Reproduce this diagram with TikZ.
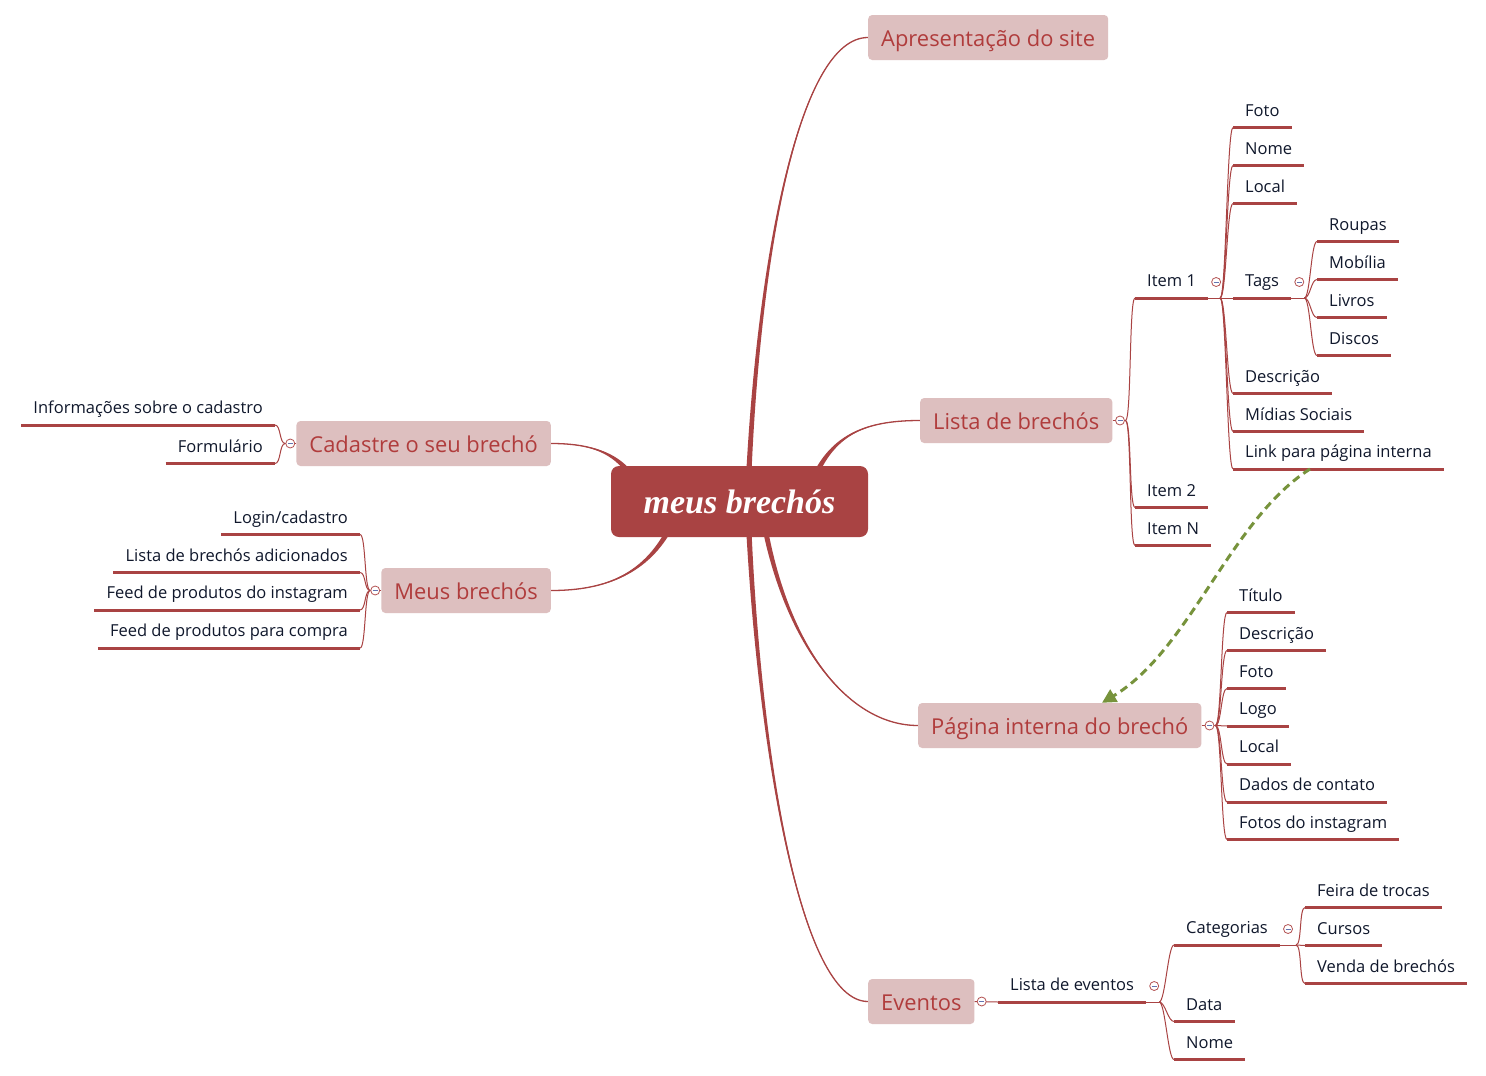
\documentclass[tikz,border=0pt]{standalone}
\usepackage{fontspec}
\setmainfont{Open Sans}
\newfontfamily\ctrfont{Liberation Serif}
\usetikzlibrary{calc,arrows.meta,backgrounds}
\definecolor{mred}{HTML}{A94343}
\definecolor{tfill}{HTML}{DDBFBF}
\definecolor{ttext}{HTML}{B03C3C}
\definecolor{ltext}{HTML}{10182C}
\definecolor{agreen}{HTML}{77933C}
\definecolor{cbord}{HTML}{B45454}
\definecolor{cminus}{HTML}{6474B0}
\tikzset{
 ctrbox/.style={fill=mred, rounded corners=8pt, minimum width=257pt, minimum height=71pt, text=white, font=\ctrfont\bfseries\itshape\fontsize{34}{40}\selectfont},
 topic/.style={fill=tfill, rounded corners=4pt, text=ttext, font=\fontsize{21.9}{26}\selectfont, inner xsep=13pt, inner ysep=0pt, minimum height=45pt, text height=18.4pt, text depth=0pt},
 leaf/.style={text=ltext, font=\fontsize{16.5}{20}\selectfont, inner xsep=12pt, inner ysep=7pt, text height=12pt, text depth=4pt},
 leafR/.style={leaf, anchor=south west},
 leafL/.style={leaf, anchor=south east},
 uline/.style={draw=mred, line width=3pt},
 conn/.style={draw=mred, line width=1pt},
 cbtn/.style={circle, draw=cbord, fill=white, line width=0.8pt, minimum size=9pt, inner sep=0pt},
 minusl/.style={draw=cminus, line width=0.8pt},
 garrow/.style={draw=agreen, line width=3pt, dash pattern=on 8pt off 5pt, -{Triangle[length=14pt,width=14pt]}}
}
\newcommand\brR[2]{\draw[conn] (#1) .. controls ($(#1)+(6,0)$) and ($(#2)+(-6,0)$) .. (#2);}
\newcommand\brL[2]{\draw[conn] (#1) .. controls ($(#1)+(-6,0)$) and ($(#2)+(6,0)$) .. (#2);}
\newcommand\mbr[5]{%
 \fill[mred] ($(#1)+(#5)$) .. controls ($(#2)+0.5*(#5)$) and (#3) .. (#4) .. controls (#3) and ($(#2)-0.5*(#5)$) .. ($(#1)-(#5)$) -- cycle;
 \draw[mred, line width=1.3pt] (#1) .. controls (#2) and (#3) .. (#4);}
\begin{document}
\begin{tikzpicture}[x=1pt,y=-1pt]
\useasboundingbox (0,0) rectangle (1486,1076);
% center and topics
\node[ctrbox] (ctr) at (739.5,501.5) {meus brechós};
\node[topic, anchor=west] (ap) at (868,37.5) {Apresentação do site};
\node[topic, anchor=west] (li) at (920,420.5) {Lista de brechós};
\node[topic, anchor=west] (pa) at (918,725.5) {Página interna do brechó};
\node[topic, anchor=west] (ev) at (868,1001.5) {Eventos};
\node[topic, anchor=east] (ca) at (551,443.5) {Cadastre o seu brechó};
\node[topic, anchor=east] (me) at (551,590.5) {Meus brechós};
% main branches
\begin{scope}[on background layer]
\fill[white] (0,0) rectangle (1486,1076);
\coordinate (sAp) at ($(ctr.north)+(9.5,4)$);
\coordinate (sEv) at ($(ctr.south)+(9.5,-4)$);
\coordinate (sLi) at ($(ctr.north)+(78.5,4)$);
\coordinate (sPa) at ($(ctr.south)+(26.5,-4)$);
\coordinate (sCa) at ($(ctr.north)+(-112.5,4)$);
\coordinate (sMe) at ($(ctr.south)+(-72.5,-4)$);
\mbr{sAp}{760,250}{800,37.5}{ap.west}{2.6,0}
\mbr{sEv}{760,750}{800,1001.5}{ev.west}{2.6,0}
\mbr{sLi}{838,432}{870,420.5}{li.west}{2.2,1.2}
\mbr{sPa}{790,650}{850,725.5}{pa.west}{2.6,0}
\mbr{sCa}{610,450}{585,443.5}{ca.east}{1.9,-1.6}
\mbr{sMe}{640,580}{595,590.5}{me.east}{2.2,1.25}
\end{scope}
% leaves: Lista de brechos
\node[leafR] (i1) at (1135,298) {Item 1};
\node[leafR] (i2) at (1135,507.5) {Item 2};
\node[leafR] (iN) at (1135,545.5) {Item N};
\node[leafR] (foto) at (1233,127.5) {Foto};
\node[leafR] (nome) at (1233,165.5) {Nome};
\node[leafR] (local) at (1233,203.5) {Local};
\node[leafR] (tags) at (1233,298) {Tags};
\node[leafR] (desc) at (1233,393.5) {Descrição};
\node[leafR] (midias) at (1233,431.5) {Mídias Sociais};
\node[leafR] (link) at (1233,469) {Link para página interna};
\node[leafR] (roupas) at (1317,241.5) {Roupas};
\node[leafR] (mob) at (1317,279.5) {Mobília};
\node[leafR] (livros) at (1317,317.5) {Livros};
\node[leafR] (discos) at (1317,355.5) {Discos};
% Pagina interna
\node[leafR] (tit) at (1227,612.5) {Título};
\node[leafR] (descb) at (1227,650.5) {Descrição};
\node[leafR] (fotob) at (1227,688.5) {Foto};
\node[leafR] (logo) at (1227,726) {Logo};
\node[leafR] (localb) at (1227,764) {Local};
\node[leafR] (dados) at (1227,802) {Dados de contato};
\node[leafR] (fig) at (1227,839.5) {Fotos do instagram};
% Eventos
\node[leafR] (lev) at (998,1002) {Lista de eventos};
\node[leafR] (cat) at (1174,945) {Categorias};
\node[leafR] (data) at (1174,1021.5) {Data};
\node[leafR] (nomeb) at (1174,1059.5) {Nome};
\node[leafR] (feira) at (1305,907.5) {Feira de trocas};
\node[leafR] (cursos) at (1305,945.5) {Cursos};
\node[leafR] (venda) at (1305,983.5) {Venda de brechós};
% left side
\node[leafL] (info) at (275,425) {Informações sobre o cadastro};
\node[leafL] (form) at (275,463.5) {Formulário};
\node[leafL] (login) at (360,534.5) {Login/cadastro};
\node[leafL] (listaad) at (360,572.5) {Lista de brechós adicionados};
\node[leafL] (feedig) at (360,610) {Feed de produtos do instagram};
\node[leafL] (feedc) at (360,648) {Feed de produtos para compra};
% underlines
\foreach \n in {i1,i2,iN,foto,nome,local,tags,desc,midias,link,roupas,mob,livros,discos,tit,descb,fotob,logo,localb,dados,fig,lev,cat,data,nomeb,feira,cursos,venda,info,form,login,listaad,feedig,feedc}
  \draw[uline] (\n.south west) -- (\n.south east);
% connectors
\coordinate (oli) at ($(li.east)+(13,0)$);
\draw[conn] (li.east) -- (oli);
\brR{oli}{i1.south west}
\brR{oli}{i2.south west}
\brR{oli}{iN.south west}
\coordinate (oi1) at ($(i1.south east)+(12,0)$);
\draw[conn] (i1.south east) -- (tags.south west);
\foreach \n in {foto,nome,local,desc,midias,link} {\brR{oi1}{\n.south west}}
\coordinate (otg) at ($(tags.south east)+(13,0)$);
\draw[conn] (tags.south east) -- (otg);
\foreach \n in {roupas,mob,livros,discos} {\brR{otg}{\n.south west}}
\coordinate (opa) at ($(pa.east)+(14,0)$);
\draw[conn] (pa.east) -- (opa);
\foreach \n in {tit,descb,fotob,logo,localb,dados,fig} {\brR{opa}{\n.south west}}
\draw[conn] (ev.east) -- (lev.south west);
\coordinate (olev) at ($(lev.south east)+(13,0)$);
\draw[conn] (lev.south east) -- (olev);
\foreach \n in {cat,data,nomeb} {\brR{olev}{\n.south west}}
\coordinate (ocat) at ($(cat.south east)+(16,0)$);
\draw[conn] (cat.south east) -- (ocat);
\foreach \n in {feira,cursos,venda} {\brR{ocat}{\n.south west}}
\coordinate (oca) at ($(ca.west)+(-11,0)$);
\draw[conn] (ca.west) -- (oca);
\foreach \n in {info,form} {\brL{oca}{\n.south east}}
\coordinate (ome) at ($(me.west)+(-11,0)$);
\draw[conn] (me.west) -- (ome);
\foreach \n in {login,listaad,feedig,feedc} {\brL{ome}{\n.south east}}
% collapse buttons
\node[cbtn] (bli) at ($(li.east)+(7.5,0)$) {};
\node[cbtn] (bi1) at ($(i1.south east)+(8,-16)$) {};
\node[cbtn] (btg) at ($(tags.south east)+(8,-16)$) {};
\node[cbtn] (bpa) at ($(pa.east)+(8,0)$) {};
\node[cbtn] (bev) at ($(ev.east)+(7,0)$) {};
\node[cbtn] (blev) at ($(lev.south east)+(8,-16)$) {};
\node[cbtn] (bcat) at ($(cat.south east)+(8,-16)$) {};
\node[cbtn] (bca) at ($(ca.west)+(-6,0)$) {};
\node[cbtn] (bme) at ($(me.west)+(-6,0)$) {};
\foreach \n in {bli,bi1,btg,bpa,bev,blev,bcat,bca,bme}
  \draw[minusl] ($(\n.center)+(-2.5,0)$) -- ($(\n.center)+(2.5,0)$);
% link arrow
\coordinate (gS) at ($(link.south west)+(77,0)$);
\draw[garrow] (gS) .. controls (1230,520) and (1190,650) .. ($(pa.north west)+(184,0)$);
\end{tikzpicture}
\end{document}
